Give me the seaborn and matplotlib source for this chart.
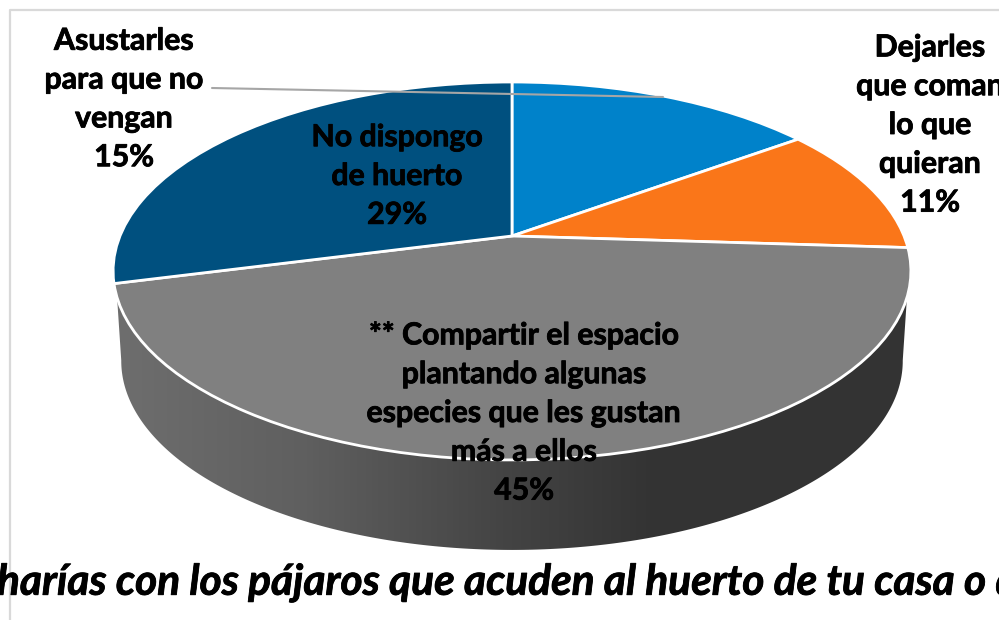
import seaborn as sns
import matplotlib.pyplot as plt
import matplotlib.patheffects as pe
import numpy as np
from matplotlib.colors import LinearSegmentedColormap
from matplotlib.patches import Polygon
from matplotlib.transforms import Transform

# --- Survey answers, clockwise from 12 o'clock ---
categories = [
    "Asustarles\npara que no\nvengan",
    "Dejarles\nque coman\nlo que\nquieran",
    "** Compartir el espacio\nplantando algunas\nespecies que les gustan\nmás a ellos",
    "No dispongo\nde huerto",
]
values = [15, 11, 45, 29]
slice_colors = ["#0082CA", "#FA7619", "#808080", "#00507F"]
title_text = "harías con los pájaros que acuden al huerto de tu casa o de"

sns.set_theme(style="white")
plt.rcParams["font.family"] = ["Lato", "DejaVu Sans"]


class Tilt(Transform):
    """Unit circle -> tilted disc, in pixel coordinates."""
    input_dims = output_dims = 2

    def __init__(self, sx=392, sy=182.5, b=0.185, cx=512, cy=236):
        super().__init__()
        self.sx, self.sy, self.b, self.cx, self.cy = sx, sy, b, cx, cy

    def transform_non_affine(self, values):
        values = np.asarray(values, dtype=float)
        w = 1 + self.b * values[:, 1]
        return np.column_stack([self.cx + self.sx * values[:, 0] / w,
                                self.cy - self.sy * values[:, 1] / w])


fig = plt.figure(figsize=(9.99, 6.2), dpi=100)
ax = fig.add_axes([0, 0, 1, 1])

# top face of the pie
wedges, _ = ax.pie(values, colors=slice_colors, startangle=90, counterclock=False,
                   wedgeprops={"edgecolor": "white", "linewidth": 2.0})
tilt = Tilt()
for w in wedges:
    w.set_transform(tilt + ax.transData)
    w.set_zorder(3)

ax.set_aspect("auto")
ax.set_xlim(0, 999)
ax.set_ylim(620, 0)
ax.axis("off")

# side wall, below the front of the disc
t = np.linspace(0, 2 * np.pi, 721)
circle = np.column_stack([np.cos(t), np.sin(t)])
top_rim = tilt.transform_non_affine(circle)
low_rim = Tilt(sx=384, cy=326).transform_non_affine(circle)
top_rim = top_rim[(top_rim[:, 1] >= 297)]
low_rim = low_rim[(low_rim[:, 1] >= 360)]
top_rim = top_rim[np.argsort(top_rim[:, 0])]
low_rim = low_rim[np.argsort(-low_rim[:, 0])]
side = Polygon(np.vstack([top_rim, low_rim]), closed=True, transform=ax.transData,
               facecolor="none", edgecolor="none")
ax.add_patch(side)
shade = LinearSegmentedColormap.from_list("shade", [
    (0.0, "#6E6E6E"), (0.24, "#5F5F5F"), (0.49, "#444444"), (0.67, "#343434"), (1.0, "#333333")])
img = ax.imshow(np.linspace(0, 1, 256)[None, :], cmap=shade, aspect="auto",
                extent=(114, 910, 560, 290), zorder=2)
img.set_clip_path(side)
ax.set_xlim(0, 999)
ax.set_ylim(620, 0)

# chart area border, cut by the picture edge
ax.plot([9.5, 9.5, 999], [620, 9.5, 9.5], color="#D9D9D9", lw=1.6, zorder=1, clip_on=False)

# leader line of the first slice
ax.plot([212, 663], [88, 97], color="#A6A6A6", lw=1.5, zorder=4)

# labels, thickened a little to get the weight of the original
heavier = [pe.withStroke(linewidth=0.6, foreground="black")]
label_xy = [(124, 99), (930, 125), (524, 413), (397, 176)]
for cat, val, (lx, ly) in zip(categories, values, label_xy):
    ax.text(lx, ly, f"{cat}\n{val}%", ha="center", va="center", fontsize=21.8,
            fontweight="bold", color="black", linespacing=1.47, zorder=5,
            path_effects=heavier)

ax.text(-3, 583, title_text, ha="left", va="center", fontsize=30.5,
        fontweight="bold", fontstyle="italic", color="black", zorder=5,
        path_effects=heavier)

plt.savefig("out.png", dpi=100)
plt.close()
